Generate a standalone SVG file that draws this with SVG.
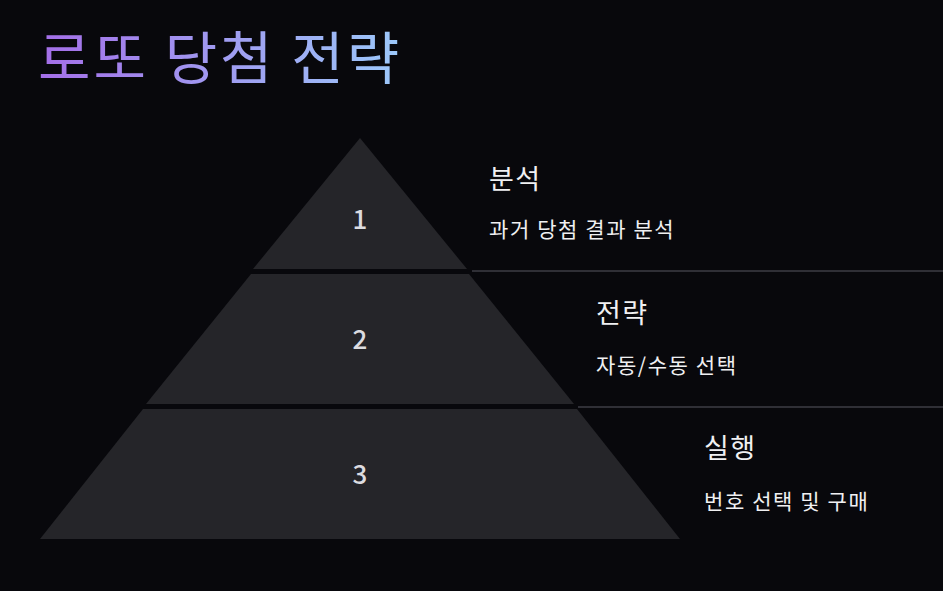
<svg xmlns="http://www.w3.org/2000/svg" width="943" height="591" viewBox="0 0 943 591">
<defs>
<linearGradient id="tg" x1="38" y1="0" x2="400" y2="0" gradientUnits="userSpaceOnUse">
<stop offset="0" stop-color="#a46ee8"/><stop offset="1" stop-color="#9cc8fa"/>
</linearGradient>
<style>
text{font-family:"Noto Sans CJK KR","Noto Sans",sans-serif}
.tier{fill:#252529}
.num{fill:#dcdce0;font-size:26px;font-weight:500;text-anchor:middle}
.h{fill:#f0f0f2;font-size:27px;letter-spacing:1.5px}
.s{fill:#f0f0f2;font-size:21px;letter-spacing:1.6px}
.ln{stroke:#3c3c44;stroke-width:1.5}
</style>
</defs>
<rect width="943" height="591" fill="#08080c"/>
<text x="38" y="79" font-size="57" letter-spacing="3" fill="url(#tg)">로또 당첨 전략</text>
<g id="connectors">
<line class="ln" x1="472" y1="271" x2="943" y2="271"/>
<line class="ln" x1="578" y1="407" x2="943" y2="407"/>
</g>
<g id="tier1"><polygon class="tier" points="360,138 467,269 253,269"/><text class="num" x="360" y="229">1</text>
<text class="h" x="489" y="189">분석</text><text class="s" x="489" y="237">과거 당첨 결과 분석</text></g>
<g id="tier2"><polygon class="tier" points="251,274 469,274 574,404 146,404"/><text class="num" x="360" y="349">2</text>
<text class="h" x="596" y="323">전략</text><text class="s" x="596" y="373">자동/수동 선택</text></g>
<g id="tier3"><polygon class="tier" points="143,409 577,409 680,539 40,539"/><text class="num" x="360" y="484">3</text>
<text class="h" x="704" y="458">실행</text><text class="s" x="704" y="509">번호 선택 및 구매</text></g>
</svg>
